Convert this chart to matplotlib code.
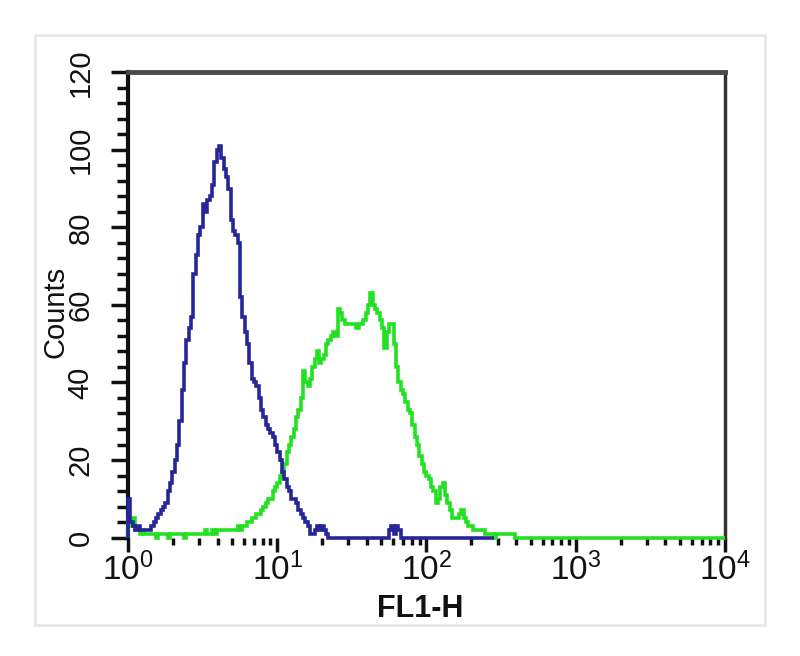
import matplotlib.pyplot as plt
import matplotlib.ticker as mticker
from matplotlib.patches import Rectangle
import numpy as np

plt.rcParams['font.family'] = ['Liberation Sans', 'DejaVu Sans']
plt.rcParams['mathtext.default'] = 'regular'

# 256 log channels over 4 decades (64 per decade), counts
channels_per_decade = 64
n_channels = 256

# control (blue), channels 0..156
blue_counts = [10, 4, 3, 2, 3, 2, 2, 2, 2, 2,
               3, 4, 5, 6, 7, 8, 9, 12, 14, 17,
               20, 24, 30, 38, 45, 51, 54, 57, 68, 73,
               78, 80, 86, 84, 87, 88, 91, 97, 100, 101,
               98, 95, 93, 90, 82, 79, 78, 76, 62, 57,
               53, 50, 45, 41, 40, 39, 36, 33, 31, 29,
               28, 27, 26, 24, 22, 20, 17, 15, 13, 12,
               10, 10, 9, 7, 6, 5, 4, 3, 1, 1,
               2, 3, 2, 3, 2, 1] + [0] * 26 + [2, 3, 1, 3, 2] + [0] * 40

# stained sample (green), channels 0..255
green_counts = [5, 3, 5, 2, 2, 1, 2, 1, 1, 1,
                1, 1, 0, 1, 1, 1, 1, 0, 1, 1,
                1, 1, 1, 1, 0, 1, 1, 1, 1, 1,
                1, 1, 1, 2, 1, 1, 2, 1, 2, 2,
                2, 2, 2, 2, 2, 2, 2, 3, 2, 3,
                3, 4, 4, 5, 5, 6, 6, 7, 8, 9,
                10, 10, 12, 13, 14, 16, 17, 19, 22, 24,
                26, 28, 31, 33, 36, 43, 40, 39, 41, 44,
                46, 48, 45, 46, 47, 50, 51, 52, 53, 52,
                59, 58, 56, 55, 55, 55, 55, 55, 54, 55,
                55, 56, 58, 60, 63, 60, 59, 58, 56, 54,
                49, 53, 55, 55, 50, 44, 40, 38, 37, 35,
                33, 32, 29, 26, 24, 21, 19, 17, 16, 15,
                13, 12, 9, 10, 13, 14, 11, 9, 7, 5,
                5, 5, 6, 7, 5, 4, 3, 3, 2, 2,
                2, 2, 2, 1, 1, 1, 1, 0, 1, 1,
                1, 1, 1, 1, 1, 1, 0] + [0] * 89

edges = 10 ** (np.arange(n_channels + 1) / channels_per_decade)

fig = plt.figure(figsize=(8, 6.56), dpi=100)
ax = fig.add_axes([0.16, 0.1806, 0.746, 0.709])

ax.stairs(green_counts, edges, color='#22e022', linewidth=2.6, clip_on=False, zorder=3)
ax.stairs(blue_counts, edges[:len(blue_counts) + 1], color='#262698', linewidth=2.6,
          clip_on=False, zorder=4)

ax.set_xscale('log')
ax.set_xlim(1, 1e4)
ax.set_ylim(0, 120)

ax.yaxis.set_major_locator(mticker.MultipleLocator(20))
ax.yaxis.set_minor_locator(mticker.MultipleLocator(4))
ax.xaxis.set_major_locator(mticker.LogLocator(base=10))
ax.xaxis.set_minor_locator(mticker.LogLocator(base=10, subs=np.arange(2, 10)))
ax.xaxis.set_minor_formatter(mticker.NullFormatter())

ax.tick_params(axis='y', which='major', length=12, width=2.5, pad=12,
               labelsize=21, labelrotation=90, colors='#111')
ax.tick_params(axis='y', which='minor', length=8, width=2.5, colors='#111')
ax.tick_params(axis='x', which='major', length=10, width=2.5, pad=1,
               labelsize=24, colors='#111')
ax.tick_params(axis='x', which='minor', length=5, width=2.5, colors='#111')
for lbl in ax.get_yticklabels():
    lbl.set_va('center')

ax.spines['bottom'].set_visible(False)
ax.spines['left'].set_linewidth(3)
ax.spines['left'].set_color('#111')
ax.spines['top'].set_linewidth(3.5)
ax.spines['top'].set_color('#4a4a4a')
ax.spines['right'].set_linewidth(2.5)
ax.spines['right'].set_color('#333')

ax.set_ylabel('Counts', fontsize=21, color='#111')
ax.yaxis.set_label_coords(-0.098, 0.485)
ax.set_xlabel('FL1-H', fontsize=22, color='#111', fontweight='bold')
ax.xaxis.set_label_coords(0.49, -0.122)

fig.add_artist(Rectangle((0.044, 0.047), 0.912, 0.9, transform=fig.transFigure,
                         fill=False, edgecolor='#e8e8e8', linewidth=2))

fig.savefig('out.png', dpi=100)
